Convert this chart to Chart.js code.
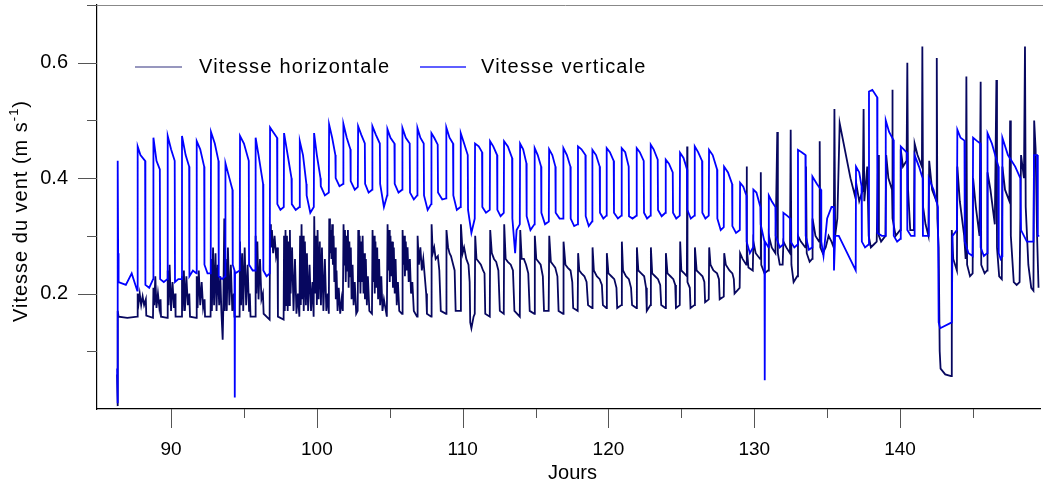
<!DOCTYPE html>
<html>
<head>
<meta charset="utf-8">
<script src="https://cdn.jsdelivr.net/npm/chart.js@4"></script>
<style>
  html, body { margin: 0; padding: 0; background: #fff; }
  #wrap { width: 1043px; height: 491px; }
</style>
</head>
<body>
<div id="wrap"><canvas id="windChart" width="1043" height="491"></canvas></div>
<script>
// noms des séries (légende)
const seriesNames = ["Vitesse horizontale", "Vitesse verticale"];
const seriesColors = ["#07075f", "#0000ff"];

// vitesse horizontale : [jour, m/s]
const horizPts = [
  [86.30,0.06],[86.33,0.005],[86.35,0.17],[86.40,0.16],[87.0,0.158],[87.68,0.16],
  [87.71,0.20],[87.78,0.185],[87.85,0.20],[87.95,0.18],[88.05,0.195],[88.15,0.18],[88.27,0.19],[88.30,0.162],[88.76,0.158],
  [88.79,0.21],[88.85,0.18],[88.92,0.23],[89.0,0.175],[89.1,0.20],[89.2,0.175],[89.28,0.19],[89.31,0.16],[89.74,0.158],
  [89.77,0.24],[89.83,0.18],[89.9,0.25],[90.0,0.17],[90.1,0.22],[90.2,0.175],[90.28,0.20],[90.31,0.16],[90.72,0.16],
  [90.75,0.23],[90.8,0.17],[90.88,0.24],[90.95,0.17],[91.05,0.23],[91.15,0.18],[91.25,0.20],[91.3,0.16],[91.73,0.158],
  [91.76,0.23],[91.82,0.175],[91.9,0.24],[92.0,0.18],[92.1,0.22],[92.2,0.175],[92.3,0.19],[92.33,0.16],[92.71,0.16],
  [92.74,0.26],[92.8,0.17],[92.88,0.28],[92.95,0.18],[93.05,0.27],[93.12,0.17],[93.2,0.25],[93.3,0.18],[93.38,0.23],[93.45,0.17],[93.54,0.12],[93.58,0.17],
  [93.65,0.33],[93.68,0.17],[93.75,0.26],[93.82,0.17],[93.9,0.28],[94.0,0.18],[94.1,0.25],[94.2,0.17],[94.3,0.20],[94.35,0.16],[94.7,0.16],
  [94.73,0.29],[94.8,0.18],[94.88,0.27],[94.95,0.17],[95.05,0.28],[95.15,0.18],[95.25,0.25],[95.35,0.17],[95.4,0.20],[95.45,0.16],[95.77,0.16],
  [95.8,0.30],[95.85,0.20],[95.92,0.29],[96.0,0.19],[96.1,0.26],[96.2,0.19],[96.3,0.20],[96.35,0.165],[96.76,0.155],
  [96.79,0.32],[96.85,0.28],[96.92,0.31],[97.0,0.27],[97.1,0.30],[97.2,0.265],[97.3,0.28],[97.33,0.16],[97.72,0.155],
  [97.75,0.30],[97.8,0.17],[97.85,0.31],[97.9,0.18],[97.95,0.30],[98.0,0.17],[98.05,0.29],[98.1,0.18],[98.15,0.31],[98.2,0.20],[98.3,0.28],[98.4,0.17],[98.5,0.26],[98.6,0.165],[98.7,0.20],[98.8,0.16],
  [98.85,0.30],[98.9,0.18],[98.95,0.32],[99.0,0.19],[99.05,0.30],[99.1,0.17],[99.18,0.29],[99.25,0.18],[99.32,0.27],[99.4,0.17],[99.5,0.25],[99.6,0.17],[99.7,0.22],[99.78,0.16],
  [99.82,0.334],[99.88,0.20],[99.95,0.30],[100.0,0.18],[100.05,0.31],[100.12,0.19],[100.2,0.29],[100.28,0.18],[100.35,0.28],[100.45,0.17],[100.55,0.26],[100.65,0.17],[100.75,0.20],[100.82,0.165],
  [100.85,0.33],[100.9,0.27],[100.95,0.31],[101.0,0.26],[101.05,0.32],[101.1,0.25],[101.15,0.30],[101.2,0.22],[101.25,0.28],[101.3,0.19],[101.35,0.24],[101.42,0.17],[101.5,0.21],[101.6,0.165],[101.7,0.19],[101.78,0.17],
  [101.83,0.32],[101.88,0.25],[101.93,0.31],[101.98,0.22],[102.03,0.30],[102.08,0.24],[102.13,0.31],[102.18,0.21],[102.23,0.29],[102.28,0.23],[102.33,0.28],[102.38,0.19],[102.45,0.25],[102.52,0.18],[102.6,0.22],[102.7,0.165],[102.8,0.17],
  [102.84,0.31],[102.89,0.22],[102.94,0.30],[102.99,0.20],[103.04,0.29],[103.09,0.22],[103.14,0.30],[103.2,0.20],[103.25,0.27],[103.3,0.19],[103.36,0.26],[103.43,0.18],[103.5,0.23],[103.6,0.17],[103.78,0.165],
  [103.82,0.31],[103.87,0.22],[103.92,0.30],[103.97,0.20],[104.02,0.29],[104.08,0.21],[104.14,0.28],[104.2,0.19],[104.27,0.26],[104.34,0.18],[104.42,0.23],[104.5,0.17],[104.6,0.19],[104.8,0.16],
  [104.85,0.32],[104.9,0.24],[104.95,0.31],[105.0,0.22],[105.05,0.30],[105.1,0.23],[105.16,0.29],[105.22,0.21],[105.28,0.28],[105.34,0.20],[105.4,0.26],[105.48,0.18],[105.56,0.22],[105.65,0.17],[105.84,0.165],
  [105.88,0.31],[105.93,0.25],[105.98,0.30],[106.04,0.23],[106.1,0.29],[106.16,0.24],[106.22,0.28],[106.3,0.22],[106.38,0.26],[106.46,0.20],[106.55,0.22],[106.65,0.17],[106.87,0.16],
  [106.91,0.30],[107.0,0.25],[107.1,0.28],[107.2,0.24],[107.3,0.26],[107.4,0.23],[107.5,0.20],[107.55,0.165],[107.84,0.16],
  [107.87,0.32],[107.95,0.27],[108.05,0.28],[108.15,0.26],[108.3,0.265],[108.4,0.24],[108.5,0.17],[108.86,0.165],
  [108.89,0.31],[109.0,0.28],[109.1,0.27],[109.2,0.265],[109.35,0.25],[109.45,0.24],[109.52,0.17],[109.85,0.17],
  [109.88,0.32],[110.0,0.27],[110.1,0.28],[110.25,0.26],[110.4,0.25],[110.48,0.22],[110.52,0.15],[110.6,0.14],[110.75,0.16],[110.83,0.165],
  [110.86,0.30],[110.95,0.26],[111.1,0.255],[111.25,0.25],[111.4,0.24],[111.5,0.235],[111.55,0.165],[111.86,0.16],
  [111.89,0.31],[112.0,0.27],[112.15,0.26],[112.3,0.255],[112.45,0.24],[112.55,0.17],[112.82,0.165],
  [112.85,0.32],[112.95,0.26],[113.1,0.255],[113.3,0.25],[113.45,0.24],[113.55,0.17],[113.92,0.16],
  [113.95,0.31],[114.05,0.26],[114.2,0.26],[114.35,0.25],[114.5,0.235],[114.6,0.17],[114.92,0.165],
  [114.95,0.30],[115.05,0.26],[115.2,0.255],[115.35,0.25],[115.5,0.23],[115.58,0.17],[115.9,0.17],
  [115.94,0.30],[116.05,0.255],[116.2,0.25],[116.35,0.245],[116.5,0.23],[116.58,0.17],[116.89,0.165],
  [116.92,0.29],[117.05,0.25],[117.2,0.245],[117.4,0.24],[117.52,0.22],[117.58,0.175],[117.89,0.17],
  [117.92,0.27],[118.0,0.24],[118.15,0.235],[118.35,0.23],[118.5,0.22],[118.6,0.18],[118.88,0.175],
  [118.91,0.28],[119.0,0.24],[119.2,0.23],[119.4,0.225],[119.55,0.215],[119.62,0.18],[119.86,0.175],
  [119.89,0.27],[120.0,0.235],[120.2,0.23],[120.4,0.225],[120.55,0.21],[120.6,0.175],[120.89,0.18],
  [120.92,0.29],[121.0,0.24],[121.2,0.23],[121.4,0.225],[121.55,0.21],[121.62,0.18],[121.92,0.175],
  [121.95,0.28],[122.05,0.24],[122.25,0.235],[122.45,0.23],[122.58,0.21],[122.63,0.17],[122.88,0.18],
  [122.91,0.28],[123.0,0.235],[123.2,0.23],[123.4,0.225],[123.55,0.215],[123.62,0.18],[123.91,0.175],
  [123.94,0.27],[124.05,0.235],[124.25,0.23],[124.45,0.225],[124.58,0.215],[124.63,0.175],[124.89,0.18],
  [124.92,0.29],[125.0,0.24],[125.2,0.235],[125.38,0.23],[125.40,0.455],[125.42,0.22],[125.58,0.21],[125.63,0.175],[125.9,0.18],
  [125.93,0.28],[126.05,0.24],[126.25,0.235],[126.45,0.23],[126.58,0.22],[126.63,0.185],[126.88,0.19],
  [126.91,0.28],[127.0,0.25],[127.2,0.24],[127.45,0.235],[127.58,0.225],[127.63,0.19],[127.91,0.195],
  [127.94,0.27],[128.05,0.25],[128.3,0.24],[128.5,0.235],[128.6,0.225],[128.65,0.20],[129.0,0.21],
  [129.03,0.27],[129.2,0.26],[129.45,0.25],[129.48,0.42],[129.5,0.28],[129.6,0.245],[129.9,0.24],
  [129.94,0.29],[130.1,0.27],[130.4,0.26],[130.45,0.41],[130.48,0.25],[130.7,0.235],[130.95,0.24],
  [131.0,0.30],[131.2,0.28],[131.45,0.27],[131.58,0.48],[131.62,0.27],[131.75,0.25],[131.95,0.25],
  [132.0,0.29],[132.2,0.28],[132.45,0.27],[132.5,0.484],[132.55,0.25],[132.7,0.22],[132.95,0.23],
  [133.0,0.30],[133.2,0.29],[133.5,0.28],[133.55,0.42],[133.6,0.27],[133.8,0.255],[133.97,0.26],
  [134.0,0.33],[134.2,0.30],[134.45,0.29],[134.49,0.464],[134.53,0.28],[134.7,0.27],[134.9,0.28],[135.1,0.30],[135.3,0.29],[135.45,0.28],
  [135.5,0.52],[135.55,0.30],[135.7,0.33],[135.86,0.495],[136.6,0.40],[136.9,0.37],[137.0,0.39],[137.2,0.36],[137.45,0.38],[137.5,0.52],[137.55,0.36],[137.75,0.42],[137.85,0.30],
  [138.0,0.28],[138.2,0.285],[138.4,0.29],[138.5,0.44],[138.55,0.30],[138.7,0.29],[139.0,0.30],[139.05,0.44],[139.2,0.40],[139.45,0.38],[139.47,0.553],[139.5,0.33],[139.7,0.30],
  [140.0,0.31],[140.05,0.45],[140.2,0.42],[140.45,0.43],[140.5,0.60],[140.55,0.38],[140.7,0.31],[140.95,0.31],
  [141.0,0.46],[141.2,0.44],[141.5,0.42],[141.53,0.628],[141.58,0.35],[141.75,0.32],[141.95,0.30],
  [142.0,0.43],[142.2,0.38],[142.5,0.36],[142.52,0.608],[142.56,0.33],[142.65,0.28],[142.72,0.10],[142.78,0.07],[143.1,0.06],[143.5,0.057],[143.55,0.31],[143.65,0.26],[143.9,0.24],
  [143.93,0.42],[144.1,0.36],[144.4,0.30],[144.5,0.26],[144.55,0.576],[144.6,0.25],[144.8,0.23],[144.98,0.235],
  [145.01,0.40],[145.2,0.35],[145.45,0.30],[145.53,0.567],[145.57,0.25],[145.8,0.235],[145.97,0.24],
  [146.0,0.41],[146.2,0.38],[146.5,0.32],[146.61,0.57],[146.65,0.28],[146.8,0.23],[146.98,0.225],
  [147.02,0.42],[147.2,0.38],[147.5,0.36],[147.55,0.50],[147.6,0.30],[147.8,0.22],[148.0,0.215],[148.2,0.22],
  [148.3,0.44],[148.5,0.40],[148.57,0.628],[148.62,0.35],[148.8,0.25],[149.0,0.21],[149.15,0.205],
  [149.2,0.50],[149.3,0.45],[149.4,0.30],[149.5,0.21]
];

// vitesse verticale : [jour, m/s]
const vertPts = [
  [86.30,0.07],[86.33,0.01],[86.35,0.43],[86.37,0.27],[86.40,0.22],[86.9,0.215],[87.3,0.235],[87.68,0.205],
  [87.71,0.455],[87.9,0.44],[88.22,0.43],[88.24,0.215],[88.5,0.21],[88.77,0.225],
  [88.79,0.47],[89.0,0.43],[89.23,0.415],[89.25,0.225],[89.5,0.22],[89.75,0.225],
  [89.77,0.473],[90.0,0.45],[90.25,0.43],[90.27,0.22],[90.5,0.225],[90.73,0.225],
  [90.75,0.473],[91.0,0.44],[91.24,0.42],[91.26,0.23],[91.5,0.24],[91.74,0.235],
  [91.76,0.464],[92.0,0.45],[92.27,0.42],[92.29,0.25],[92.5,0.235],[92.72,0.235],
  [92.74,0.48],[93.0,0.46],[93.25,0.43],[93.27,0.23],[93.5,0.225],[93.71,0.23],
  [93.73,0.426],[94.0,0.40],[94.21,0.38],[94.23,0.25],[94.35,0.24],[94.37,0.02],[94.39,0.235],[94.71,0.24],
  [94.73,0.473],[95.0,0.46],[95.33,0.43],[95.35,0.25],[95.6,0.24],[95.78,0.24],
  [95.80,0.47],[96.0,0.44],[96.31,0.39],[96.33,0.24],[96.55,0.23],[96.77,0.235],
  [96.79,0.488],[97.0,0.48],[97.27,0.47],[97.29,0.355],[97.5,0.345],[97.73,0.35],
  [97.75,0.478],[98.0,0.44],[98.26,0.40],[98.28,0.355],[98.55,0.345],[98.81,0.35],
  [98.83,0.464],[99.05,0.44],[99.28,0.39],[99.30,0.37],[99.55,0.34],[99.79,0.35],
  [99.81,0.478],[100.0,0.44],[100.25,0.40],[100.27,0.386],[100.55,0.37],[100.82,0.375],
  [100.84,0.493],[101.05,0.47],[101.27,0.44],[101.29,0.40],[101.55,0.386],[101.8,0.39],
  [101.82,0.494],[102.05,0.47],[102.30,0.45],[102.32,0.395],[102.6,0.38],[102.81,0.385],
  [102.83,0.49],[103.05,0.475],[103.29,0.46],[103.31,0.39],[103.55,0.375],[103.79,0.38],
  [103.81,0.49],[104.05,0.475],[104.32,0.46],[104.34,0.39],[104.6,0.35],[104.82,0.37],
  [104.84,0.485],[105.05,0.47],[105.32,0.46],[105.34,0.39],[105.6,0.375],[105.85,0.38],
  [105.87,0.487],[106.1,0.47],[106.37,0.46],[106.39,0.375],[106.65,0.363],[106.88,0.37],
  [106.90,0.487],[107.1,0.47],[107.33,0.46],[107.35,0.37],[107.6,0.345],[107.84,0.355],
  [107.86,0.478],[108.05,0.47],[108.29,0.458],[108.31,0.375],[108.6,0.363],[108.86,0.365],
  [108.88,0.488],[109.1,0.47],[109.34,0.46],[109.36,0.37],[109.6,0.345],[109.85,0.35],
  [109.87,0.478],[110.1,0.46],[110.35,0.44],[110.37,0.345],[110.6,0.305],[110.83,0.33],
  [110.85,0.46],[111.1,0.455],[111.33,0.445],[111.35,0.35],[111.6,0.34],[111.86,0.345],
  [111.88,0.464],[112.1,0.455],[112.36,0.44],[112.38,0.345],[112.6,0.334],[112.82,0.34],
  [112.84,0.464],[113.1,0.455],[113.39,0.435],[113.41,0.33],[113.6,0.27],[113.7,0.31],[113.92,0.32],
  [113.94,0.46],[114.15,0.45],[114.37,0.426],[114.39,0.334],[114.65,0.31],[114.92,0.32],
  [114.94,0.452],[115.15,0.44],[115.38,0.42],[115.40,0.34],[115.65,0.32],[115.91,0.325],
  [115.93,0.45],[116.15,0.44],[116.36,0.42],[116.38,0.34],[116.65,0.33],[116.89,0.33],
  [116.91,0.452],[117.15,0.44],[117.39,0.42],[117.41,0.33],[117.65,0.317],[117.89,0.32],
  [117.91,0.455],[118.15,0.45],[118.42,0.44],[118.44,0.334],[118.65,0.317],[118.88,0.325],
  [118.90,0.449],[119.15,0.44],[119.40,0.42],[119.42,0.34],[119.65,0.33],[119.86,0.335],
  [119.88,0.452],[120.1,0.445],[120.36,0.43],[120.38,0.34],[120.65,0.33],[120.89,0.335],
  [120.91,0.452],[121.15,0.445],[121.39,0.42],[121.41,0.334],[121.65,0.33],[121.92,0.335],
  [121.94,0.452],[122.15,0.445],[122.42,0.43],[122.44,0.34],[122.65,0.33],[122.88,0.335],
  [122.90,0.458],[123.1,0.45],[123.38,0.432],[123.40,0.345],[123.65,0.334],[123.91,0.34],
  [123.93,0.432],[124.15,0.425],[124.41,0.41],[124.43,0.34],[124.65,0.33],[124.89,0.335],
  [124.91,0.444],[125.15,0.435],[125.39,0.415],[125.41,0.345],[125.65,0.33],[125.9,0.335],
  [125.92,0.455],[126.15,0.445],[126.42,0.43],[126.44,0.34],[126.65,0.33],[126.88,0.335],
  [126.90,0.449],[127.15,0.44],[127.45,0.415],[127.47,0.33],[127.7,0.31],[127.91,0.315],
  [127.93,0.42],[128.2,0.41],[128.48,0.39],[128.50,0.317],[128.75,0.305],[129.01,0.31],
  [129.03,0.392],[129.25,0.385],[129.46,0.37],[129.48,0.29],[129.7,0.27],[129.92,0.28],
  [129.94,0.38],[130.15,0.375],[130.42,0.35],[130.44,0.32],[130.70,0.29],[130.72,0.05],[130.74,0.29],[130.98,0.28],
  [131.00,0.37],[131.2,0.36],[131.45,0.35],[131.47,0.30],[131.75,0.28],[131.98,0.285],
  [132.00,0.34],[132.25,0.335],[132.48,0.33],[132.50,0.29],[132.75,0.28],[132.98,0.285],
  [133.00,0.449],[133.25,0.445],[133.51,0.44],[133.53,0.30],[133.75,0.276],[133.97,0.28],
  [133.99,0.403],[134.3,0.39],[134.58,0.38],[134.60,0.29],[134.75,0.265],[135.0,0.33],[135.3,0.35],[135.45,0.35],[135.47,0.24],[135.55,0.30],[135.80,0.30],[136.96,0.24],
  [136.98,0.42],[137.2,0.41],[137.36,0.386],[137.38,0.29],[137.6,0.28],[137.85,0.285],
  [137.87,0.55],[138.1,0.553],[138.43,0.54],[138.45,0.305],[138.75,0.30],[139.0,0.30],
  [139.02,0.50],[139.25,0.48],[139.55,0.466],[139.57,0.30],[139.8,0.29],[140.03,0.295],
  [140.05,0.455],[140.25,0.45],[140.48,0.444],[140.50,0.31],[140.75,0.30],[140.98,0.30],
  [141.00,0.44],[141.3,0.42],[141.55,0.40],[141.57,0.30],[141.8,0.30],[141.95,0.30],[141.97,0.40],[142.3,0.38],[142.6,0.35],[142.65,0.15],[142.75,0.14],[143.55,0.15],[143.6,0.30],[143.9,0.31],
  [143.93,0.484],[144.15,0.47],[144.42,0.465],[144.44,0.29],[144.7,0.27],[144.98,0.265],
  [145.01,0.47],[145.25,0.465],[145.51,0.46],[145.53,0.28],[145.75,0.265],[145.98,0.27],
  [146.00,0.478],[146.3,0.46],[146.75,0.42],[146.77,0.27],[146.9,0.26],[147.0,0.265],
  [147.02,0.47],[147.4,0.44],[147.9,0.42],[148.25,0.40],[148.3,0.31],[148.7,0.29],[149.15,0.29],
  [149.19,0.44],[149.4,0.44],[149.45,0.30],[149.55,0.30]
];

// axes
const xRange = [84.92, 149.6];
const yRange = [0, 0.7];
const yLabelTicks = [0.2, 0.4, 0.6];
const xTitle = "Jours";
const yTitle = ["Vitesse du vent (m s", "-1", ")"];

const FONT = "'Liberation Sans', Arial, Helvetica, sans-serif";
Chart.defaults.font.family = FONT;
Chart.defaults.color = "#000";

function toXY(pts) {
  return pts.map((p) => ({ x: p[0], y: p[1] }));
}

// axes, graduations, titres et légende dessinés à la main
const decorPlugin = {
  id: "decor",
  afterDraw(chart) {
    const ctx = chart.ctx;
    const area = chart.chartArea;
    const xs = chart.scales.x;
    const ys = chart.scales.y;
    ctx.save();

    // ligne du haut
    ctx.strokeStyle = "#888";
    ctx.lineWidth = 1;
    ctx.beginPath();
    ctx.moveTo(area.left - 9, Math.round(area.top) + 0.5);
    ctx.lineTo(chart.width, Math.round(area.top) + 0.5);
    ctx.stroke();

    // graduations
    ctx.strokeStyle = "#555";
    xs.ticks.forEach((t) => {
      const px = Math.round(xs.getPixelForValue(t.value)) + 0.5;
      if (px < area.left + 3) return;
      const len = t.value % 10 === 0 ? 19 : 9;
      ctx.beginPath();
      ctx.moveTo(px, area.bottom);
      ctx.lineTo(px, area.bottom + len);
      ctx.stroke();
    });
    ys.ticks.forEach((t) => {
      if (t.value <= 0) return;
      const py = Math.round(ys.getPixelForValue(t.value)) + 0.5;
      const major = yLabelTicks.includes(Math.round(t.value * 10) / 10);
      const len = major ? 19 : 10;
      ctx.beginPath();
      ctx.moveTo(area.left - len, py);
      ctx.lineTo(area.left, py);
      ctx.stroke();
    });

    // titre axe x
    ctx.fillStyle = "#000";
    ctx.font = "20px " + FONT;
    ctx.textAlign = "center";
    ctx.textBaseline = "middle";
    ctx.fillText(xTitle, (area.left + area.right) / 2 + 4, 473);

    // titre axe y avec exposant
    ctx.save();
    ctx.translate(21, 211);
    ctx.rotate(-Math.PI / 2);
    ctx.letterSpacing = "1px";
    ctx.font = "20px " + FONT;
    const w1 = ctx.measureText(yTitle[0]).width;
    const w3 = ctx.measureText(yTitle[2]).width;
    ctx.font = "13px " + FONT;
    const w2 = ctx.measureText(yTitle[1]).width;
    const x0 = -(w1 + w2 + w3) / 2;
    ctx.textAlign = "left";
    ctx.font = "20px " + FONT;
    ctx.fillText(yTitle[0], x0, 0);
    ctx.font = "13px " + FONT;
    ctx.fillText(yTitle[1], x0 + w1, -7);
    ctx.font = "20px " + FONT;
    ctx.fillText(yTitle[2], x0 + w1 + w2, 0);
    ctx.restore();

    // légende
    const legend = [
      { x1: 135, x2: 182, tx: 199, color: "#7474a8", lw: 1.3 },
      { x1: 420, x2: 466, tx: 481, color: "#2a2aff", lw: 1.3 }
    ];
    ctx.letterSpacing = "1.2px";
    ctx.font = "20px " + FONT;
    ctx.textAlign = "left";
    ctx.textBaseline = "middle";
    legend.forEach((l, i) => {
      ctx.strokeStyle = l.color;
      ctx.lineWidth = l.lw;
      ctx.beginPath();
      ctx.moveTo(l.x1, 67);
      ctx.lineTo(l.x2, 67);
      ctx.stroke();
      ctx.fillStyle = "#000";
      ctx.fillText(seriesNames[i], l.tx, 67);
    });
    ctx.restore();
  }
};

const ctx = document.getElementById("windChart").getContext("2d");
const windChart = new Chart(ctx, {
  type: "line",
  data: {
    datasets: [
      {
        label: seriesNames[0],
        data: toXY(horizPts),
        borderColor: seriesColors[0],
        borderWidth: 1.8,
        pointRadius: 0,
        tension: 0,
        fill: false,
        order: 2
      },
      {
        label: seriesNames[1],
        data: toXY(vertPts),
        borderColor: seriesColors[1],
        borderWidth: 1.8,
        pointRadius: 0,
        tension: 0,
        fill: false,
        order: 1
      }
    ]
  },
  options: {
    responsive: false,
    animation: false,
    devicePixelRatio: 1,
    parsing: false,
    layout: { padding: { top: 5, right: 3, left: 0, bottom: 0 } },
    plugins: {
      legend: { display: false },
      tooltip: { enabled: false }
    },
    scales: {
      x: {
        type: "linear",
        min: xRange[0],
        max: xRange[1],
        afterFit(scale) {
          scale.height = 82;
          scale.paddingLeft = 0;
          scale.paddingRight = 0;
        },
        border: { display: true, color: "#000", width: 1.2 },
        grid: { display: false, drawTicks: false },
        ticks: {
          stepSize: 5,
          includeBounds: false,
          autoSkip: false,
          maxRotation: 0,
          padding: 29,
          font: { size: 19 },
          color: "#000",
          callback: (v) => (v % 10 === 0 ? String(v) : "")
        }
      },
      y: {
        min: yRange[0],
        max: yRange[1],
        afterFit(scale) {
          scale.width = 97;
          scale.paddingTop = 0;
          scale.paddingBottom = 0;
        },
        border: { display: true, color: "#000", width: 1.2 },
        grid: { display: false, drawTicks: false },
        ticks: {
          stepSize: 0.1,
          includeBounds: false,
          padding: 29,
          font: { size: 20 },
          color: "#000",
          callback: (v) => (yLabelTicks.includes(Math.round(v * 10) / 10) ? v.toFixed(1) : "")
        }
      }
    }
  },
  plugins: [decorPlugin]
});
</script>
</body>
</html>
